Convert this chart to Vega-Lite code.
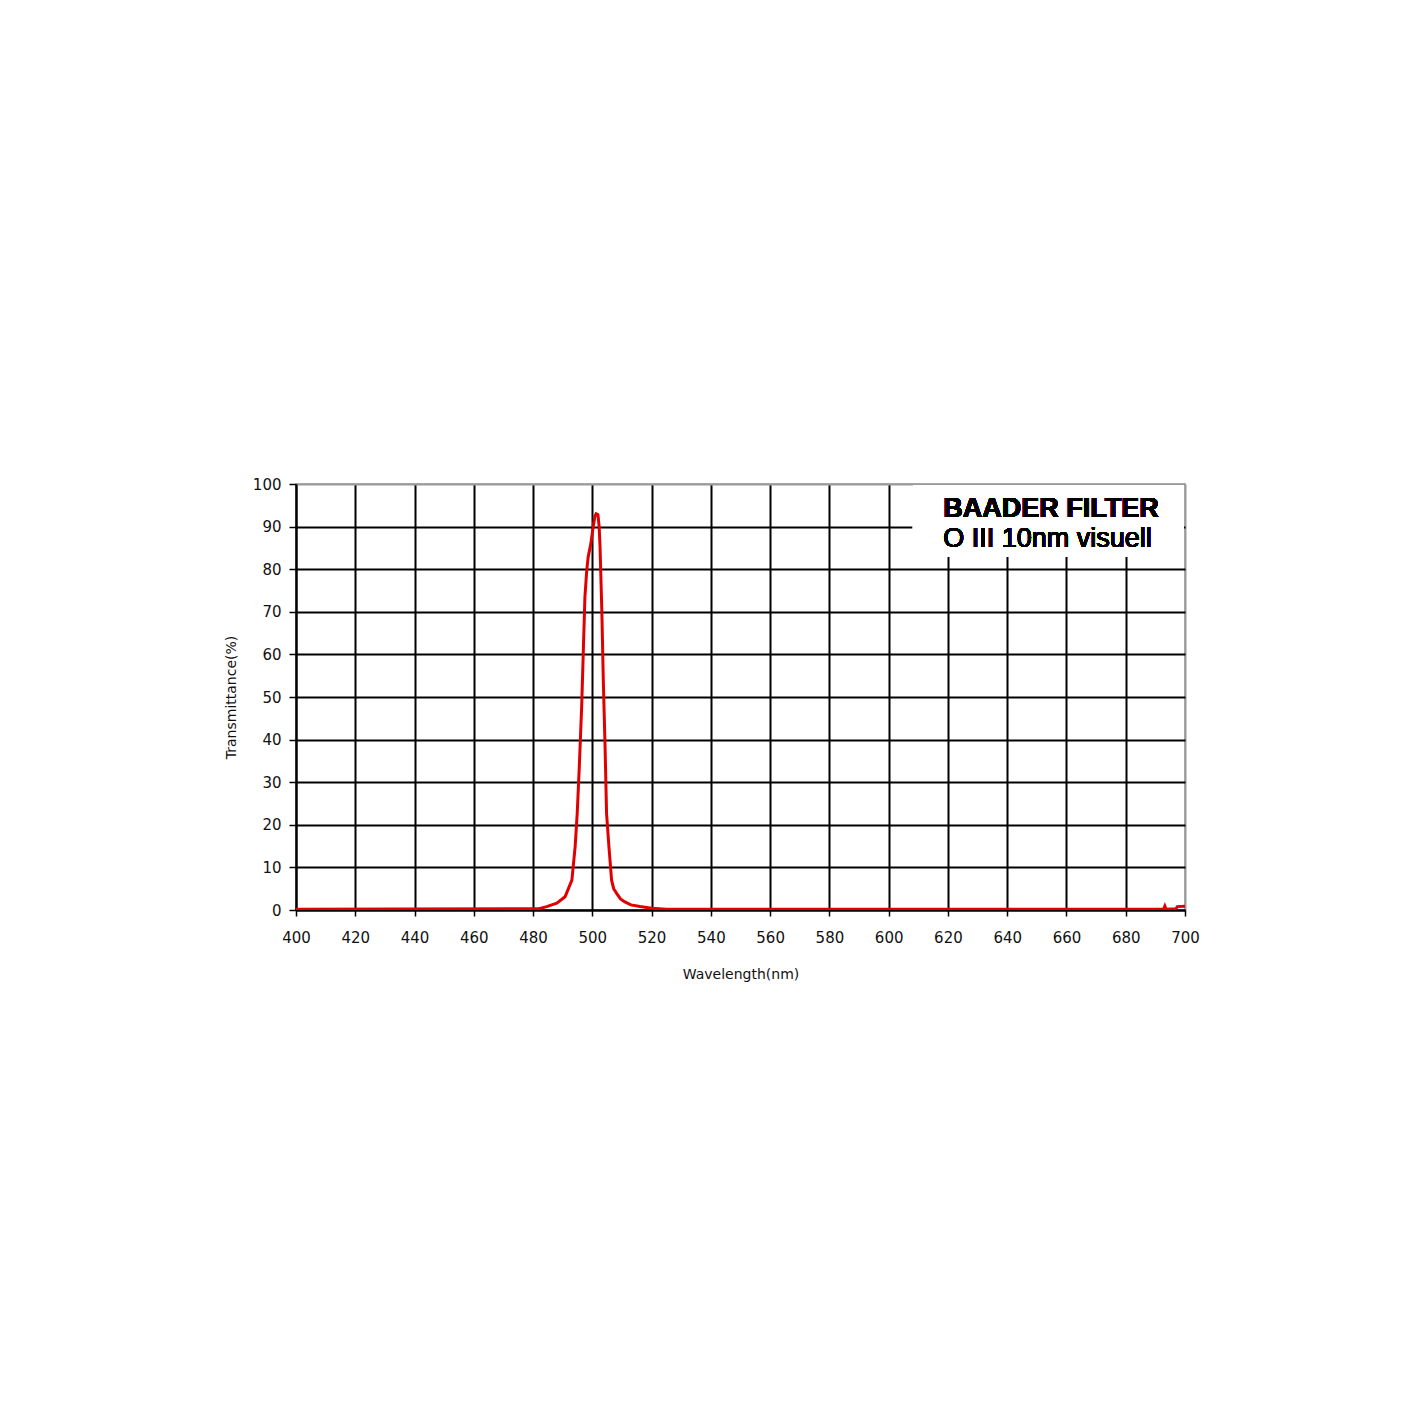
{
  "$schema": "https://vega.github.io/schema/vega-lite/v6.json",
  "autosize": "none",
  "width": 889,
  "height": 426,
  "padding": {"left": 296, "top": 484, "right": 237, "bottom": 512},
  "background": "white",
  "config": {
    "view": {"stroke": "#9a9a9a", "strokeWidth": 1.5},
    "font": "DejaVu Sans"
  },
  "data": {
    "values": [
      {"wl": 400, "t": 0.2}, {"wl": 482, "t": 0.3}, {"wl": 484.6, "t": 0.8},
      {"wl": 488, "t": 1.6}, {"wl": 490.8, "t": 3.1}, {"wl": 493.1, "t": 7},
      {"wl": 494.2, "t": 14.9}, {"wl": 494.9, "t": 22.7}, {"wl": 495.6, "t": 33.6},
      {"wl": 496.4, "t": 47.7}, {"wl": 497, "t": 61.8}, {"wl": 497.5, "t": 73.5},
      {"wl": 498.1, "t": 79.6}, {"wl": 498.6, "t": 82.9}, {"wl": 499.5, "t": 86},
      {"wl": 500.3, "t": 90}, {"wl": 500.9, "t": 92.5}, {"wl": 501.3, "t": 93},
      {"wl": 501.9, "t": 92.8}, {"wl": 502.3, "t": 90}, {"wl": 502.6, "t": 85.3},
      {"wl": 503.2, "t": 70.4}, {"wl": 503.7, "t": 54}, {"wl": 504.3, "t": 38.3},
      {"wl": 504.8, "t": 22.7}, {"wl": 505.6, "t": 14.9}, {"wl": 506.5, "t": 7},
      {"wl": 507.2, "t": 5}, {"wl": 508.2, "t": 3.9}, {"wl": 509.5, "t": 2.6},
      {"wl": 511, "t": 1.9}, {"wl": 513, "t": 1.2}, {"wl": 516.1, "t": 0.8},
      {"wl": 520, "t": 0.4}, {"wl": 525, "t": 0.2}, {"wl": 692.8, "t": 0.2},
      {"wl": 693.2, "t": 0.9}, {"wl": 693.6, "t": 0.2}, {"wl": 697, "t": 0.3},
      {"wl": 697.4, "t": 0.8}, {"wl": 700, "t": 0.9}
    ]
  },
  "layer": [
    {
      "mark": {"type": "line", "color": "#e00000", "strokeWidth": 3, "clip": true},
      "encoding": {
        "x": {
          "field": "wl", "type": "quantitative",
          "scale": {"domain": [400, 700], "nice": false},
          "axis": {
            "values": [400, 420, 440, 460, 480, 500, 520, 540, 560, 580, 600, 620, 640, 660, 680, 700],
            "title": "Wavelength(nm)",
            "titleFont": "DejaVu Sans", "titleFontSize": 14, "titleFontWeight": "normal",
            "titleColor": "#111", "titlePadding": 22,
            "labelFont": "DejaVu Sans", "labelFontSize": 15, "labelColor": "#111",
            "labelFlush": false,
            "labelPadding": 14, "tickSize": 6, "tickColor": "#000", "tickWidth": 1.5,
            "domainColor": "#000", "domainWidth": 2,
            "grid": true,
            "gridColor": {"condition": {"test": "datum.value == 700", "value": "#9a9a9a"}, "value": "#000"},
            "gridWidth": 2, "gridOpacity": 1
          }
        },
        "y": {
          "field": "t", "type": "quantitative",
          "scale": {"domain": [0, 100], "nice": false},
          "axis": {
            "values": [0, 10, 20, 30, 40, 50, 60, 70, 80, 90, 100],
            "title": "Transmittance(%)",
            "titleFont": "DejaVu Sans", "titleFontSize": 14, "titleFontWeight": "normal",
            "titleColor": "#111", "titlePadding": 14,
            "labelFont": "DejaVu Sans", "labelFontSize": 15, "labelColor": "#111",
            "labelFlush": false,
            "labelPadding": 8, "tickSize": 7, "tickColor": "#000", "tickWidth": 1.5,
            "domainColor": "#000", "domainWidth": 2,
            "grid": true,
            "gridColor": {"condition": {"test": "datum.value == 100", "value": "#9a9a9a"}, "value": "#000"},
            "gridWidth": 2, "gridOpacity": 1
          }
        }
      }
    },
    {
      "mark": {"type": "rect", "fill": "white", "stroke": null},
      "encoding": {
        "x": {"datum": 608.2},
        "x2": {"datum": 699.6},
        "y": {"datum": 99.7},
        "y2": {"datum": 82.9}
      }
    },
    {
      "mark": {"type": "text", "text": "BAADER FILTER", "font": "Liberation Sans", "fontSize": 27, "fontWeight": "bold", "align": "left", "baseline": "alphabetic", "fill": "#000"},
      "encoding": {"x": {"datum": 618.4}, "y": {"datum": 92.2}}
    },
    {
      "mark": {"type": "text", "text": "O III 10nm visuell", "font": "Liberation Sans", "fontSize": 27, "fontWeight": "normal", "align": "left", "baseline": "alphabetic", "fill": "#000"},
      "encoding": {"x": {"datum": 618.4}, "y": {"datum": 85.2}}
    }
  ]
}
